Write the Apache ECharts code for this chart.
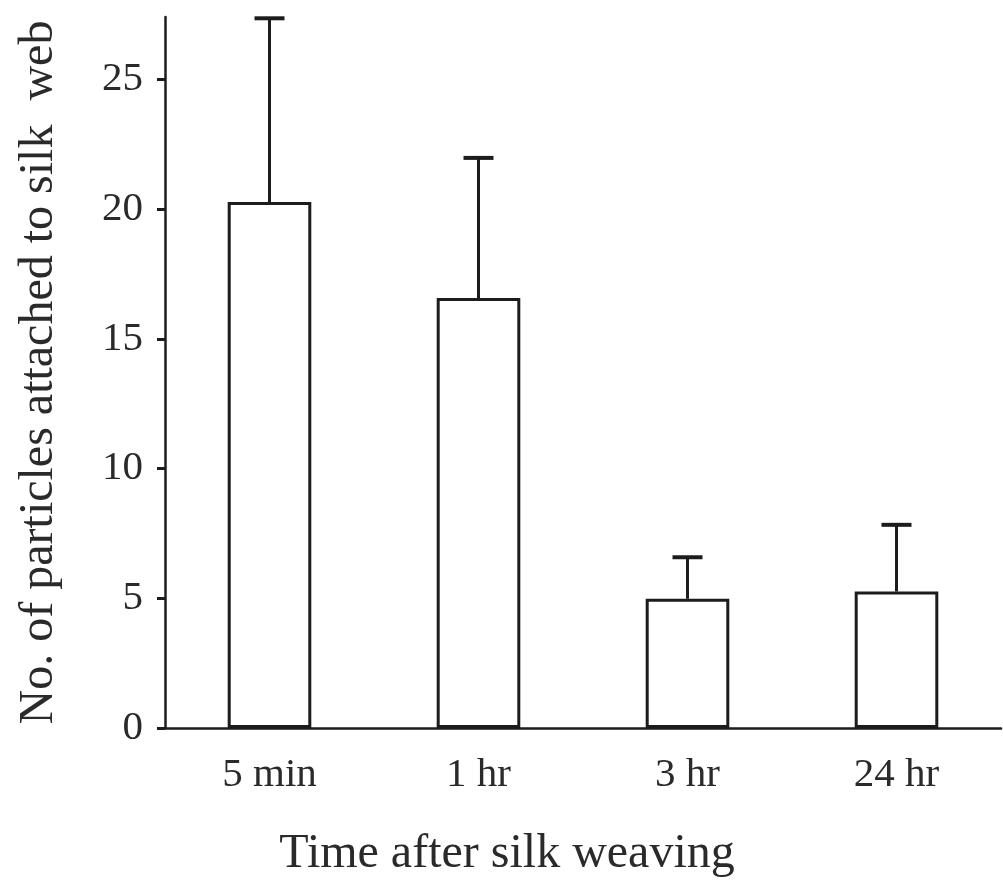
<!DOCTYPE html>
<html>
<head>
<meta charset="utf-8">
<script src="https://cdn.jsdelivr.net/npm/echarts@6/dist/echarts.min.js"></script>
<style>html,body{margin:0;padding:0;background:#fff}#c{width:1003px;height:891px}</style>
</head>
<body>
<div id="c"></div>
<script>
const categories = ['5 min', '1 hr', '3 hr', '24 hr'];
const means = [20.27, 16.57, 4.98, 5.26];
const upperErrors = [27.35, 21.97, 6.58, 7.83];
const yTicks = [0, 5, 10, 15, 20, 25];

const font = '"Liberation Serif", "Times New Roman", serif';
const ink = '#1c1c1c';
const chart = echarts.init(document.getElementById('c'));
chart.setOption({
  animation: false,
  backgroundColor: '#fff',
  grid: { left: 165, right: 2, top: 17, bottom: 163 },
  xAxis: {
    type: 'category',
    data: categories,
    name: 'Time after silk weaving',
    nameLocation: 'middle',
    nameGap: 102,
    nameTextStyle: { fontFamily: font, fontSize: 48, color: '#2a2a2a', padding: [0, 152, 0, 0] },
    axisLine: { lineStyle: { color: ink, width: 2.5 } },
    axisTick: { alignWithLabel: true, length: 9, lineStyle: { color: ink, width: 3 } },
    axisLabel: { fontFamily: font, fontSize: 41, color: '#2a2a2a', margin: 27 }
  },
  yAxis: {
    type: 'value',
    min: 0, max: 27.4, interval: 5,
    name: 'No. of particles attached to silk  web',
    nameLocation: 'middle',
    nameGap: 102,
    nameTextStyle: { fontFamily: font, fontSize: 48, color: '#2a2a2a' },
    splitLine: { show: false },
    axisLine: { show: true, lineStyle: { color: ink, width: 2.5 } },
    axisTick: { show: true, length: 8, customValues: yTicks, lineStyle: { color: ink, width: 3 } },
    axisLabel: { fontFamily: font, fontSize: 41, color: '#2a2a2a', margin: 22, customValues: yTicks }
  },
  series: [
    {
      type: 'bar',
      data: means,
      barWidth: '40%',
      itemStyle: { color: '#fff', borderColor: ink, borderWidth: 3 },
      z: 2
    },
    {
      type: 'custom',
      z: 3,
      data: means.map((m, i) => [i, m, upperErrors[i]]),
      renderItem: function (params, api) {
        const base = api.coord([api.value(0), api.value(1)]);
        const top = api.coord([api.value(0), api.value(2)]);
        const half = 15;
        return {
          type: 'group',
          children: [
            { type: 'line', shape: { x1: base[0], y1: base[1], x2: top[0], y2: top[1] }, style: { stroke: ink, lineWidth: 3 } },
            { type: 'line', shape: { x1: top[0] - half, y1: top[1], x2: top[0] + half, y2: top[1] }, style: { stroke: ink, lineWidth: 4 } }
          ]
        };
      }
    }
  ]
});
</script>
</body>
</html>
